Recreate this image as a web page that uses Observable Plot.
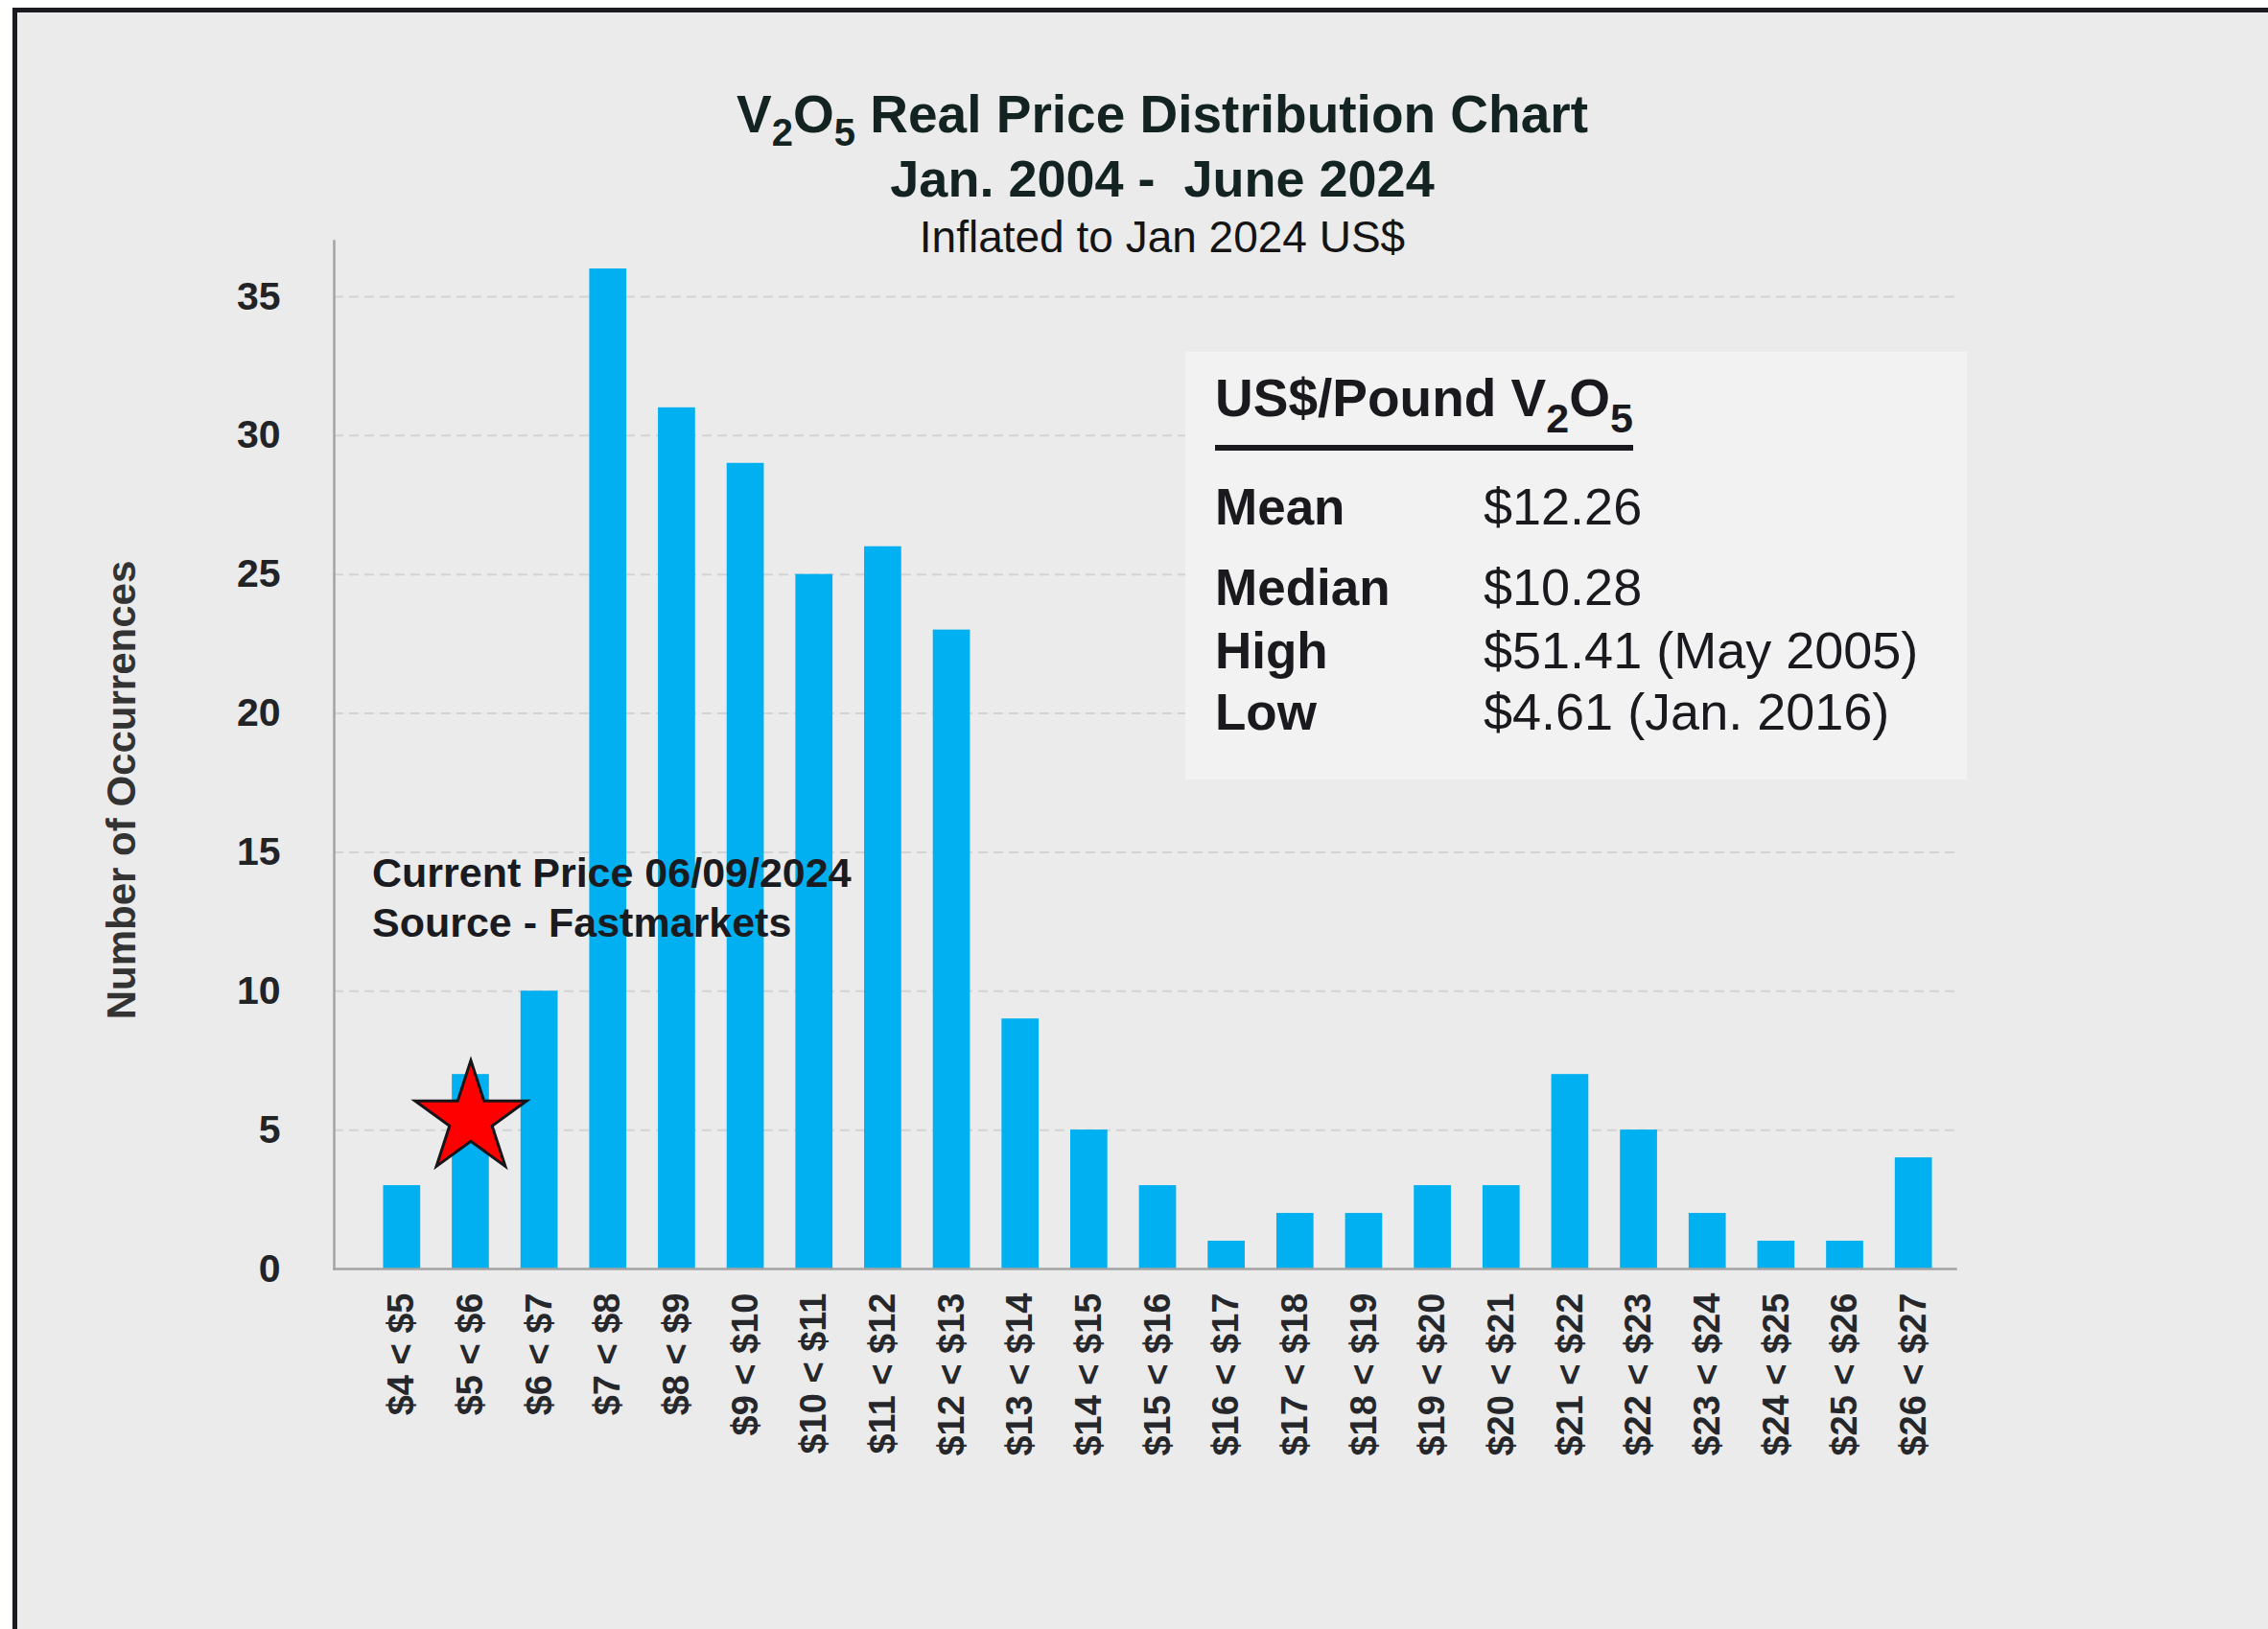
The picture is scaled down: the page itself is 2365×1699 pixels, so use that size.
<!DOCTYPE html>
<html>
<head>
<meta charset="utf-8">
<script src="https://cdn.jsdelivr.net/npm/d3@7"></script>
<script src="https://cdn.jsdelivr.net/npm/@observablehq/plot@0.6"></script>
<style>
  html, body { margin: 0; padding: 0; background: #ffffff; overflow: hidden; width: 2365px; height: 1699px; }
  body { position: relative; font-family: 'Liberation Sans', Arial, sans-serif; }
  #panel { position: absolute; left: 13px; top: 8px; width: 2400px; height: 1750px; background: #ebebeb;
           border-left: 5px solid #1b1b21; border-top: 5px solid #1b1b21; }
  #chart svg { position: absolute; left: 0; top: 0; }
  .t { position: absolute; white-space: pre; }
</style>
</head>
<body>
<div id="panel"></div>
<div id="chart"></div>
<div id="overlay"></div>
<script>
// ---------- data ----------
const bins = ["$4 < $5", "$5 < $6", "$6 < $7", "$7 < $8", "$8 < $9", "$9 < $10", "$10 < $11", "$11 < $12",
  "$12 < $13", "$13 < $14", "$14 < $15", "$15 < $16", "$16 < $17", "$17 < $18", "$18 < $19", "$19 < $20",
  "$20 < $21", "$21 < $22", "$22 < $23", "$23 < $24", "$24 < $25", "$25 < $26", "$26 < $27"];
const counts = [3, 7, 10, 36, 31, 29, 25, 26, 23, 9, 5, 3, 1, 2, 2, 3, 3, 7, 5, 2, 1, 1, 4];
const yTicks = [0, 5, 10, 15, 20, 25, 30, 35];
const currentPrice = [{bin: "$5 < $6", y: 5.4}];
const statLabels = ["Mean", "Median", "High", "Low"];
const statValues = ["$12.26", "$10.28", "$51.41 (May 2005)", "$4.61 (Jan. 2016)"];
const titleLines = ["V<sub>2</sub>O<sub>5</sub> Real Price Distribution Chart", "Jan. 2004 -  June 2024", "Inflated to Jan 2024 US$"];
const annotationLines = ["Current Price 06/09/2024", "Source - Fastmarkets"];
const yTitle = "Number of Occurrences";

const data = bins.map((b, i) => ({bin: b, count: counts[i]}));

// ---------- chart ----------
const svg = Plot.plot({
  width: 2365,
  height: 1699,
  marginLeft: 348,
  marginRight: 326,
  marginTop: 251,
  marginBottom: 376,
  style: {background: "transparent", fontFamily: "'Liberation Sans', Arial, sans-serif", overflow: "visible"},
  x: {domain: bins, paddingInner: 0.46, paddingOuter: 0.23, insetLeft: 35, insetRight: 8, round: false, label: null},
  y: {domain: [0, 37], label: null},
  marks: [
    Plot.gridY(yTicks.filter(d => d > 0), {stroke: "#d3d3d3", strokeOpacity: 1, strokeWidth: 2, strokeDasharray: "10,6"}),
    Plot.barY(data, {x: "bin", y: "count", fill: "#00B0F0"}),
    Plot.frame({anchor: "left", stroke: "#a3a3a3", strokeWidth: 2.5}),
    Plot.frame({anchor: "bottom", stroke: "#a3a3a3", strokeWidth: 2.5}),
    Plot.axisY({ticks: yTicks, tickSize: 0, tickPadding: 56, fontSize: 41, fontWeight: "bold", fill: "#222326", label: null}),
    Plot.axisX({tickSize: 0, tickPadding: 25, tickRotate: -90, fontSize: 38, fontWeight: "bold", fill: "#25272b", label: null}),
    Plot.dot(currentPrice, {x: "bin", y: "y", symbol: "star", r: 36.5, fill: "#ff0000", stroke: "#15151a", strokeWidth: 3})
  ]
});
document.getElementById("chart").appendChild(svg);

// ---------- text overlays ----------
const overlay = document.getElementById("overlay");
function addText({left, baseline, size, weight = "normal", color = "#1a1a1e", html, width = null, align = "left"}) {
  const d = document.createElement("div");
  d.className = "t";
  d.style.fontSize = size + "px";
  d.style.lineHeight = size + "px";
  d.style.fontWeight = weight;
  d.style.color = color;
  d.style.top = (baseline - 0.8465 * size) + "px";
  d.style.left = left + "px";
  if (width) { d.style.width = width + "px"; d.style.textAlign = align; }
  d.innerHTML = html;
  overlay.appendChild(d);
  return d;
}

// Title
const titleSub = (h, s, shift) => h.replace(/<sub>(.*?)<\/sub>/g, `<span style="font-size:${s}px;vertical-align:-${shift}px;line-height:0">$1</span>`);
addText({left: 212, width: 2000, align: "center", baseline: 139, size: 55, weight: "bold", color: "#132321", html: titleSub(titleLines[0], 40, 14)});
addText({left: 212, width: 2000, align: "center", baseline: 205, size: 54, weight: "bold", color: "#132321", html: titleLines[1]});
addText({left: 212, width: 2000, align: "center", baseline: 263, size: 46, weight: "normal", color: "#141414", html: titleLines[2]});

// Stats box
const box = document.createElement("div");
box.style.cssText = "position:absolute;left:1236px;top:367px;width:815px;height:446px;background:#f2f2f2;";
overlay.appendChild(box);
const header = addText({left: 1267, baseline: 435, size: 55, weight: "bold", color: "#1a1a1e",
  html: titleSub("US$/Pound V<sub>2</sub>O<sub>5</sub>", 43, 17)});
header.style.paddingBottom = "21px";
header.style.borderBottom = "6px solid #1a1a1e";
const rowBaselines = [547, 631, 697, 761];
statLabels.forEach((l, i) => {
  addText({left: 1267, baseline: rowBaselines[i], size: 53, weight: "bold", html: l});
  addText({left: 1547, baseline: rowBaselines[i], size: 54, weight: "normal", html: statValues[i]});
});

// Annotation
addText({left: 388, baseline: 925, size: 43, weight: "bold", color: "#1a1b20", html: annotationLines[0]});
addText({left: 388, baseline: 977, size: 43, weight: "bold", color: "#1a1b20", html: annotationLines[1]});

// Y axis title (rotated)
const yt = addText({left: 127 - 300, width: 600, align: "center", baseline: 824 + 14.55, size: 42, weight: "bold", color: "#333333", html: yTitle});
yt.style.transform = "rotate(-90deg)";
yt.style.transformOrigin = "50% 50%";
</script>
</body>
</html>
